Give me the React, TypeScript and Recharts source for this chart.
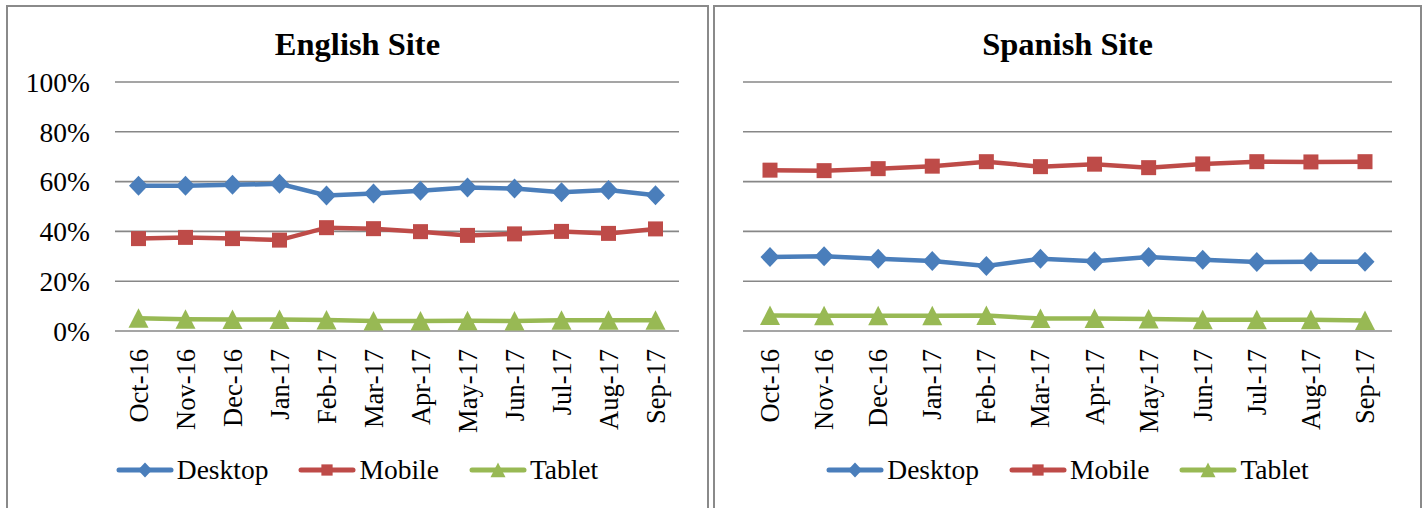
import React from 'react';
import { LineChart, Line, XAxis, YAxis, CartesianGrid, Legend } from 'recharts';

const months = ['Oct-16', 'Nov-16', 'Dec-16', 'Jan-17', 'Feb-17', 'Mar-17', 'Apr-17', 'May-17', 'Jun-17', 'Jul-17', 'Aug-17', 'Sep-17'];

const englishDesktop = [58.3, 58.3, 58.7, 59.1, 54.4, 55.2, 56.3, 57.6, 57.2, 55.7, 56.6, 54.5];
const englishMobile = [37.1, 37.6, 37.1, 36.5, 41.5, 41.1, 39.9, 38.4, 39.0, 40.0, 39.2, 41.0];
const englishTablet = [5.1, 4.7, 4.6, 4.6, 4.4, 4.0, 4.0, 4.1, 4.0, 4.3, 4.3, 4.3];

const spanishDesktop = [29.7, 30.0, 29.0, 28.1, 26.1, 29.0, 28.0, 29.7, 28.6, 27.7, 27.8, 27.8];
const spanishMobile = [64.6, 64.4, 65.2, 66.2, 68.0, 66.0, 67.0, 65.6, 67.1, 68.0, 67.9, 68.0];
const spanishTablet = [6.2, 6.1, 6.1, 6.1, 6.2, 5.0, 5.0, 4.8, 4.5, 4.5, 4.5, 4.2];

const yTicks = [0, 20, 40, 60, 80, 100];
const seriesNames = ['Desktop', 'Mobile', 'Tablet'];
const seriesColors = ['#4a7ebb', '#be4b48', '#98b954'];

const FONT = '"Liberation Serif", "Times New Roman", serif';

function buildData(desktop: number[], mobile: number[], tablet: number[]) {
  return months.map((m, i) => ({ month: m, Desktop: desktop[i], Mobile: mobile[i], Tablet: tablet[i] }));
}

const englishData = buildData(englishDesktop, englishMobile, englishTablet);
const spanishData = buildData(spanishDesktop, spanishMobile, spanishTablet);

function markerPath(kind: number, cx: number, cy: number, s: number) {
  if (kind === 0) {
    const w = 9.5 * s, h = 10 * s;
    return `M${cx},${cy - h}L${cx + w},${cy}L${cx},${cy + h}L${cx - w},${cy}Z`;
  }
  if (kind === 1) {
    const a = 7.5 * s;
    return `M${cx - a},${cy - a}L${cx + a},${cy - a}L${cx + a},${cy + a}L${cx - a},${cy + a}Z`;
  }
  const w = 10 * s, up = 10 * s, dn = 9.5 * s;
  return `M${cx},${cy - up}L${cx + w},${cy + dn}L${cx - w},${cy + dn}Z`;
}

const makeDot = (kind: number) => (props: any) => {
  const { cx, cy, index } = props;
  if (cx == null || cy == null) return <g key={`e-${kind}-${index}`} />;
  return <path key={`m-${kind}-${index}`} d={markerPath(kind, cx, cy, 1)} fill={seriesColors[kind]} stroke="none" />;
};

const XTick = (props: any) => {
  const { x, y, payload } = props;
  return (
    <text
      x={x}
      y={y}
      transform={`rotate(-90 ${x} ${y})`}
      textAnchor="end"
      dominantBaseline="central"
      fontFamily={FONT}
      fontSize={26.5}
      fill="#000"
    >
      {payload.value}
    </text>
  );
};

const LegendContent = () => (
  <div style={{ display: 'flex', justifyContent: 'center', alignItems: 'center', height: 30 }}>
    {seriesNames.map((name, i) => (
      <div key={name} style={{ display: 'flex', alignItems: 'center', marginRight: i < 2 ? 30 : 0 }}>
        <svg width={58} height={24} style={{ display: 'block' }}>
          <line x1={3} y1={12} x2={55} y2={12} stroke={seriesColors[i]} strokeWidth={5} strokeLinecap="round" />
          <path d={markerPath(i, 29, 12, 0.75)} fill={seriesColors[i]} />
        </svg>
        <span style={{ fontFamily: FONT, fontSize: 27.5, color: '#000', marginLeft: 3, lineHeight: '30px' }}>{name}</span>
      </div>
    ))}
  </div>
);

const Panel = ({ left, width, title }: { left: number; width: number; title: string }) => (
  <>
    <div
      style={{
        position: 'absolute',
        left,
        top: 5,
        width,
        height: 520,
        border: '2px solid #8a8a8a',
        boxSizing: 'border-box',
      }}
    />
    <div
      style={{
        position: 'absolute',
        left,
        top: 26,
        width,
        height: 36,
        lineHeight: '36px',
        textAlign: 'center',
        fontFamily: FONT,
        fontWeight: 'bold',
        fontSize: 32.5,
        color: '#000',
      }}
    >
      {title}
    </div>
  </>
);

const SiteChart = ({ data, showY, margin, width, pad }: { data: any[]; showY: boolean; margin: any; width: number; pad: number }) => (
  <LineChart width={width} height={508} data={data} margin={margin}>
    <CartesianGrid vertical={false} stroke="#878787" strokeWidth={1.6} />
    <XAxis
      dataKey="month"
      axisLine={false}
      tickLine={false}
      tickSize={0}
      tickMargin={18}
      height={110}
      interval={0}
      padding={{ left: pad, right: pad }}
      tick={<XTick />}
    />
    <YAxis
      domain={[0, 100]}
      ticks={yTicks}
      hide={!showY}
      width={showY ? 80 : 0}
      axisLine={false}
      tickLine={false}
      tickSize={0}
      tickMargin={25}
      tickFormatter={(v: number) => `${v}%`}
      tick={{ fontFamily: FONT, fontSize: 27.5, fill: '#000' }}
    />
    {seriesNames.map((name, i) => (
      <Line
        key={name}
        type="linear"
        dataKey={name}
        stroke={seriesColors[i]}
        strokeWidth={4.5}
        dot={makeDot(i)}
        activeDot={false}
        isAnimationActive={false}
      />
    ))}
    <Legend
      layout="horizontal"
      verticalAlign="middle"
      align="center"
      wrapperStyle={{ top: 455 }}
      content={<LegendContent />}
    />
  </LineChart>
);

export default function App() {
  return (
    <div style={{ position: 'absolute', left: 0, top: 0, width: 1426, height: 508, background: '#fff', overflow: 'hidden' }}>
      <Panel left={6} width={703} title="English Site" />
      <Panel left={713} width={709} title="Spanish Site" />
      <div style={{ position: 'absolute', left: 0, top: 0 }}>
        <SiteChart data={englishData} showY={true} width={710} pad={23.5} margin={{ top: 82, right: 31, left: 35, bottom: 67 }} />
      </div>
      <div style={{ position: 'absolute', left: 710, top: 0 }}>
        <SiteChart data={spanishData} showY={false} width={716} pad={27} margin={{ top: 82, right: 34, left: 33, bottom: 67 }} />
      </div>
    </div>
  );
}
